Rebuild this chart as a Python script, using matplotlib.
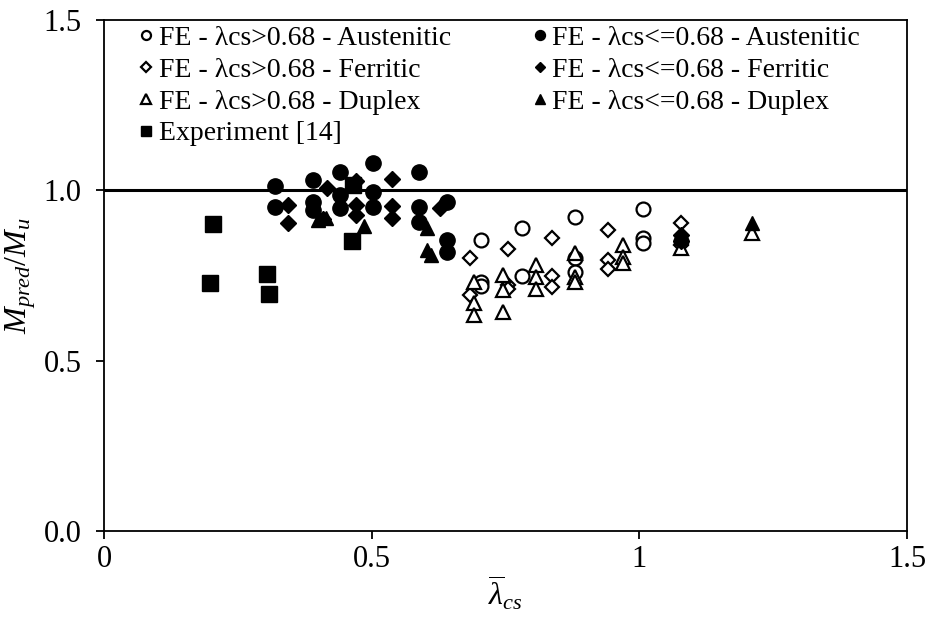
import matplotlib
matplotlib.use('Agg')
from matplotlib import pyplot as plt

plt.rcParams['font.family'] = ['Liberation Serif', 'DejaVu Serif']
plt.rcParams['mathtext.fontset'] = 'custom'
plt.rcParams['mathtext.rm'] = 'Liberation Serif'
plt.rcParams['mathtext.it'] = 'Liberation Serif:italic'

# FE, slenderness > 0.68
aus_hi_x = [0.705, 0.705, 0.705, 0.781, 0.781, 0.880, 0.880, 0.880, 1.007, 1.007, 1.007, 1.077]
aus_hi_y = [0.854, 0.732, 0.720, 0.888, 0.748, 0.922, 0.800, 0.761, 0.945, 0.859, 0.846, 0.850]
fer_hi_x = [0.684, 0.684, 0.754, 0.754, 0.754, 0.837, 0.837, 0.837, 0.941, 0.941, 0.941, 1.077, 1.077]
fer_hi_y = [0.800, 0.693, 0.828, 0.722, 0.710, 0.859, 0.748, 0.717, 0.885, 0.795, 0.769, 0.903, 0.840]
dup_hi_x = [0.692, 0.692, 0.692, 0.745, 0.745, 0.745, 0.807, 0.807, 0.807, 0.880, 0.880, 0.880,
            0.969, 0.969, 0.969, 1.077, 1.211]
dup_hi_y = [0.732, 0.668, 0.634, 0.751, 0.707, 0.644, 0.781, 0.745, 0.710, 0.815, 0.746, 0.732,
            0.839, 0.805, 0.786, 0.830, 0.874]

# FE, slenderness <= 0.68
aus_lo_x = [0.320, 0.320, 0.391, 0.391, 0.391, 0.441, 0.441, 0.441, 0.503, 0.503, 0.503,
            0.588, 0.588, 0.588, 0.641, 0.641, 0.641]
aus_lo_y = [1.012, 0.951, 1.030, 0.967, 0.942, 1.053, 0.985, 0.947, 1.079, 0.996, 0.952,
            1.055, 0.952, 0.908, 0.967, 0.854, 0.820]
fer_lo_x = [0.343, 0.343, 0.416, 0.410, 0.471, 0.471, 0.471, 0.538, 0.538, 0.538, 0.628, 1.077, 1.077]
fer_lo_y = [0.957, 0.905, 1.006, 0.915, 1.028, 0.958, 0.929, 1.034, 0.955, 0.920, 0.947, 0.870, 0.850]
dup_lo_x = [0.400, 0.415, 0.485, 0.603, 0.603, 0.610, 1.077, 1.211]
dup_lo_y = [0.913, 0.920, 0.895, 0.888, 0.825, 0.810, 0.860, 0.903]

# test results
exp_x = [0.204, 0.198, 0.304, 0.309, 0.464, 0.465]
exp_y = [0.901, 0.729, 0.754, 0.696, 0.851, 1.017]

fig = plt.figure(figsize=(9.26, 6.23), dpi=100)
ax = fig.add_axes([0.1123, 0.1477, 0.8672, 0.8202])

ax.axhline(1.0, color='black', lw=2.2, zorder=1)

opn = dict(ls='none', mfc='white', mec='black', mew=1.6)
fil = dict(ls='none', mfc='black', mec='black', mew=1.0)

h1, = ax.plot(aus_hi_x, aus_hi_y, 'o', ms=10, label='FE - λcs>0.68 - Austenitic', **opn)
h2, = ax.plot(fer_hi_x, fer_hi_y, 'D', ms=7.5, label='FE - λcs>0.68 - Ferritic', **opn)
h3, = ax.plot(dup_hi_x, dup_hi_y, '^', ms=10, label='FE - λcs>0.68 - Duplex', **opn)
h4, = ax.plot(exp_x, exp_y, 's', ms=11, label='Experiment [14]', **fil)
h5, = ax.plot(aus_lo_x, aus_lo_y, 'o', ms=11, label='FE - λcs<=0.68 - Austenitic', **fil)
h6, = ax.plot(fer_lo_x, fer_lo_y, 'D', ms=8, label='FE - λcs<=0.68 - Ferritic', **fil)
h7, = ax.plot(dup_lo_x, dup_lo_y, '^', ms=10, label='FE - λcs<=0.68 - Duplex', **fil)

ax.set_xlim(0, 1.5)
ax.set_ylim(0, 1.5)
ax.set_xticks([0, 0.5, 1, 1.5])
ax.set_xticklabels(['0', '0.5', '1', '1.5'])
ax.set_yticks([0, 0.5, 1.0, 1.5])
ax.set_yticklabels(['0.0', '0.5', '1.0', '1.5'])
ax.tick_params(direction='out', length=6, width=1.3, labelsize=22, colors='black')
ax.tick_params(axis='y', pad=10)
ax.tick_params(axis='x', pad=4)
for s in ax.spines.values():
    s.set_linewidth(1.3)

ax.set_xlabel(r'$\overline{\lambda}_{cs}$', fontsize=23, labelpad=0)
ax.set_ylabel(r'$M_{pred}/M_u$', fontsize=23, labelpad=4)

leg = ax.legend(handles=[h1, h2, h3, h4, h5, h6, h7], ncol=2, loc='upper left',
                bbox_to_anchor=(0.02, 1.022), frameon=False, fontsize=20,
                markerscale=0.65, handlelength=0.7, handletextpad=0.1,
                columnspacing=2.85, labelspacing=0.23, borderaxespad=0.2)

plt.savefig('out.png', dpi=100)
